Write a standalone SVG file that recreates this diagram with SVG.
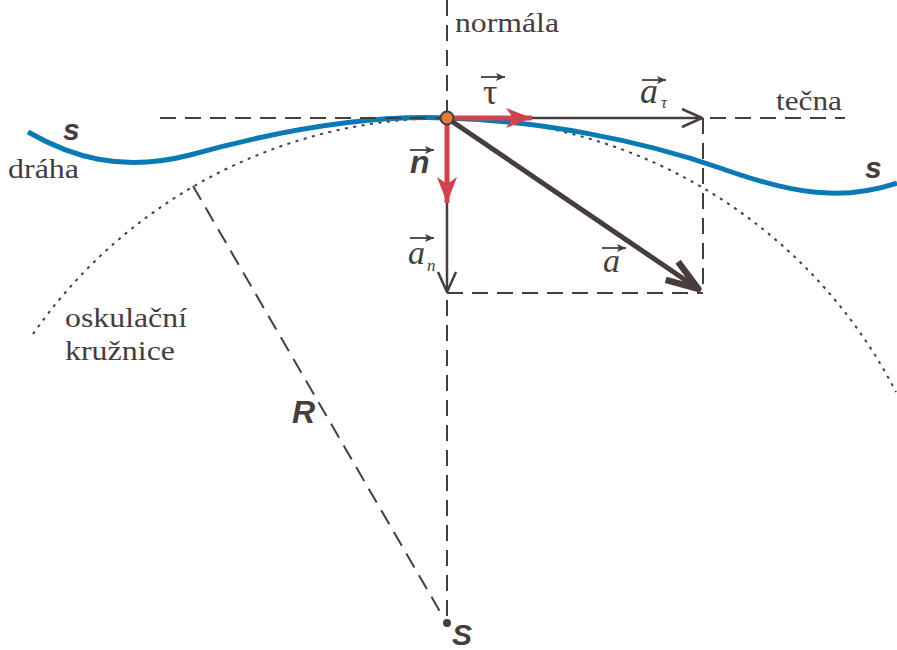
<svg xmlns="http://www.w3.org/2000/svg" width="897" height="650" viewBox="0 0 897 650">
<defs>
<style>
.dash{fill:none;stroke:#473d3d;stroke-width:2;stroke-dasharray:16,9}
.dot{fill:none;stroke:#473d3d;stroke-width:2;stroke-dasharray:3,5.5}
.vec{fill:none;stroke:#473d3d;stroke-width:2.5}
.red{fill:none;stroke:#d1434e;stroke-width:5}
.ser{font-family:"Liberation Serif","Times New Roman",serif;fill:#473d3d}
.it{font-family:"Liberation Serif","Times New Roman",serif;font-style:italic;fill:#473d3d}
.sans{font-family:"Liberation Sans",Arial,sans-serif;font-weight:bold;font-style:italic;fill:#473d3d}
.sm{stroke:#473d3d;stroke-width:1.8;fill:none}
</style>
<marker id="chev" viewBox="-22 -12 26 24" refX="0" refY="0" markerWidth="26" markerHeight="24" markerUnits="userSpaceOnUse" orient="auto">
<path d="M-20,-9 L0,0 L-20,9" fill="none" stroke="#473d3d" stroke-width="2.5" stroke-linejoin="round"/>
</marker>
<marker id="bigchev" viewBox="-40 -16 44 32" refX="0" refY="0" markerWidth="44" markerHeight="32" markerUnits="userSpaceOnUse" orient="auto">
<path d="M-34,-11 L-2,0 L-34,11" fill="none" stroke="#473d3d" stroke-width="6.5" stroke-linejoin="round"/>
</marker>
<marker id="redhead" viewBox="-28 -12 30 24" refX="0" refY="0" markerWidth="30" markerHeight="24" markerUnits="userSpaceOnUse" orient="auto">
<path d="M0,0 L-26,-10 L-19,0 L-26,10 Z" fill="#d1434e"/>
</marker>
<marker id="small" viewBox="-10 -5 11 10" refX="0" refY="0" markerWidth="11" markerHeight="10" markerUnits="userSpaceOnUse" orient="auto">
<path d="M0,0 L-9,-4 L-7,0 L-9,4 Z" fill="#473d3d"/>
</marker>
</defs>

<g id="osculating-circle">
<path class="dot" d="M33,334 A505,505 0 0 1 896,392"/>
</g>

<g id="path-curve">
<path d="M28,132 C70,156 120,173 190,155 C280,130 370,115 447,118 C540,121 640,140 720,168 C790,193 840,202 897,183" fill="none" stroke="#0a7ab5" stroke-width="5"/>
</g>

<g id="connectors">
<line class="dash" x1="447" y1="0" x2="447" y2="623"/>
<line class="dash" x1="160" y1="118" x2="845" y2="118"/>
<line class="dash" x1="703" y1="118" x2="703" y2="293"/>
<line class="dash" x1="447" y1="293" x2="703" y2="293"/>
<line class="dash" x1="193" y1="186" x2="442" y2="615"/>
<line class="vec" x1="447" y1="118" x2="702" y2="118" marker-end="url(#chev)"/>
<line class="vec" x1="447" y1="118" x2="447" y2="292" marker-end="url(#chev)"/>
<line class="vec" x1="447" y1="118" x2="700" y2="290" style="stroke-width:5" marker-end="url(#bigchev)"/>
<line class="red" x1="447" y1="118" x2="532" y2="118" marker-end="url(#redhead)"/>
<line class="red" x1="447" y1="118" x2="447" y2="203" marker-end="url(#redhead)"/>
</g>

<g id="point-P">
<circle cx="447" cy="118" r="6.5" fill="#e07b39" stroke="#473d3d" stroke-width="2"/>
</g>

<g id="point-S">
<circle cx="447" cy="623" r="4" fill="#473d3d"/>
<text class="sans" x="452" y="645" font-size="30">S</text>
</g>

<g id="labels">
<text class="ser" x="455" y="32" font-size="28" textLength="104" lengthAdjust="spacingAndGlyphs">normála</text>
<text class="ser" x="776" y="110" font-size="28" textLength="66" lengthAdjust="spacingAndGlyphs">tečna</text>
<text class="ser" x="8" y="178" font-size="28" textLength="71" lengthAdjust="spacingAndGlyphs">dráha</text>
<text class="ser" x="65" y="327" font-size="28" textLength="122" lengthAdjust="spacingAndGlyphs">oskulační</text>
<text class="ser" x="65" y="360" font-size="28" textLength="110" lengthAdjust="spacingAndGlyphs">kružnice</text>
<text class="sans" x="63" y="140" font-size="30">s</text>
<text class="sans" x="865" y="178" font-size="30">s</text>
<text class="sans" x="292" y="423" font-size="32">R</text>
</g>

<g id="vector-labels">
<text class="ser" x="483" y="104" font-size="36">τ</text>
<line class="sm" x1="481" y1="77" x2="505" y2="77" marker-end="url(#small)"/>
<text class="it" x="640" y="103" font-size="36">a</text>
<text class="it" x="661" y="108" font-size="17">τ</text>
<line class="sm" x1="642" y1="80" x2="666" y2="80" marker-end="url(#small)"/>
<text class="sans" x="410" y="173" font-size="32">n</text>
<line class="sm" x1="410" y1="150" x2="434" y2="150" marker-end="url(#small)"/>
<text class="it" x="408" y="264" font-size="34">a</text>
<text class="it" x="427" y="271" font-size="17">n</text>
<line class="sm" x1="410" y1="238" x2="434" y2="238" marker-end="url(#small)"/>
<text class="it" x="603" y="272" font-size="34">a</text>
<line class="sm" x1="602" y1="248" x2="626" y2="248" marker-end="url(#small)"/>
</g>
</svg>
